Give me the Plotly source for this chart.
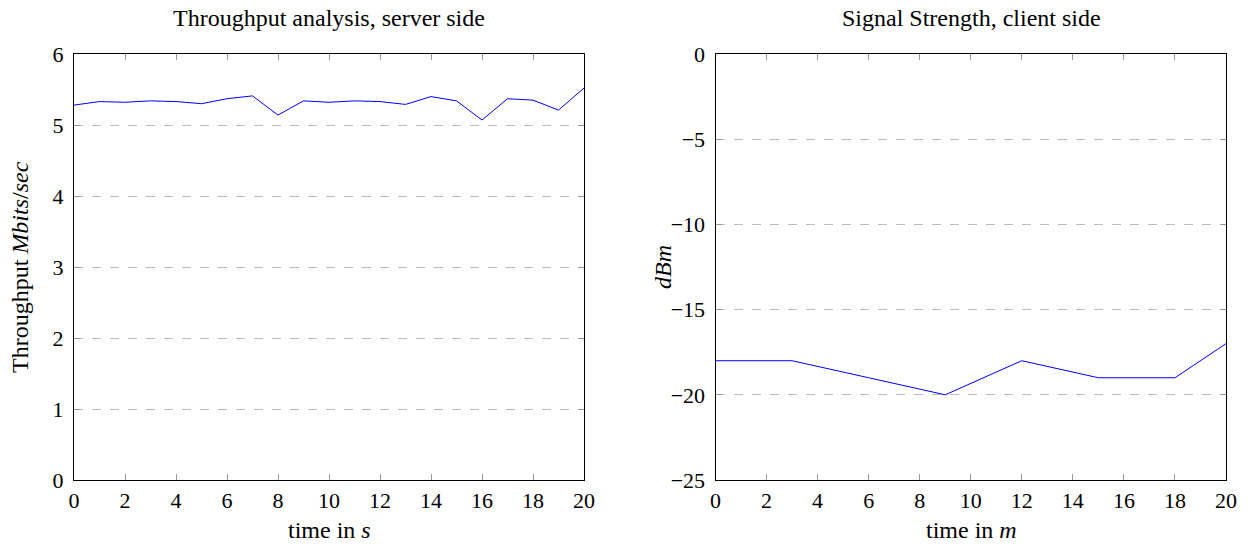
import plotly.graph_objects as go

# Left: throughput
t_s = list(range(21))
throughput = [5.28, 5.33, 5.32, 5.34, 5.33, 5.30, 5.37, 5.41, 5.14, 5.34, 5.32,
              5.34, 5.33, 5.29, 5.40, 5.34, 5.07, 5.37, 5.35, 5.21, 5.52]

# Right: signal strength
t_m = [0, 3, 6, 9, 12, 15, 18, 20]
dbm = [-18, -18, -19, -20, -18, -19, -19, -17]

W, H = 1251, 548
FONT = "Liberation Serif"

fig = go.Figure()
fig.add_trace(go.Scatter(x=t_s, y=throughput, mode="lines",
                         line=dict(color="#0000ff", width=1), xaxis="x", yaxis="y",
                         showlegend=False))
fig.add_trace(go.Scatter(x=t_m, y=dbm, mode="lines",
                         line=dict(color="#0000ff", width=1), xaxis="x2", yaxis="y2",
                         showlegend=False))

ydom = [(H - 480) / H, (H - 54) / H]
xd1 = [74 / W, 584 / W]
xd2 = [715.5 / W, 1226 / W]

common_x = dict(showline=True, linecolor="black", linewidth=1, mirror="ticks",
                ticks="inside", ticklen=6, tickcolor="#999999", showgrid=False,
                zeroline=False, tickfont=dict(size=22, color="black"),
                range=[0, 20], dtick=2, tick0=0, automargin=False, ticklabelstandoff=1)
common_y = dict(showline=True, linecolor="black", linewidth=1, mirror="ticks",
                ticks="inside", ticklen=6, tickcolor="#999999", showgrid=True,
                gridcolor="#bbbbbb", griddash="dash", gridwidth=1,
                zeroline=False, tickfont=dict(size=22, color="black"),
                automargin=False, ticklabelstandoff=5)

def ann(text, x, y, size=22, angle=0):
    return dict(text=text, x=x / W, y=(H - y) / H, xref="paper", yref="paper",
                showarrow=False, font=dict(size=size), xanchor="center",
                yanchor="middle", textangle=angle)

fig.update_layout(
    width=W, height=H,
    margin=dict(l=0, r=0, t=0, b=0),
    paper_bgcolor="white", plot_bgcolor="white",
    font=dict(family=FONT, color="black", size=21),
    xaxis=dict(domain=xd1, anchor="y", **common_x),
    yaxis=dict(domain=ydom, anchor="x", range=[0, 6], dtick=1, **common_y),
    xaxis2=dict(domain=xd2, anchor="y2", **common_x),
    yaxis2=dict(domain=ydom, anchor="x2", range=[-25, 0], dtick=5, **common_y),
    annotations=[
        ann("Throughput analysis, server side", 329, 18, 24),
        ann("Signal Strength, client side", 971, 18, 24),
        ann("time in <i>s</i>", 329, 530, 24),
        ann("time in <i>m</i>", 971, 530, 24),
        ann("Throughput <i>Mbits</i>/<i>sec</i>", 20, 267, 24, -90),
        ann("<i>dBm</i>", 663, 267, 24, -90),
    ],
)

fig.write_html("out.html")
